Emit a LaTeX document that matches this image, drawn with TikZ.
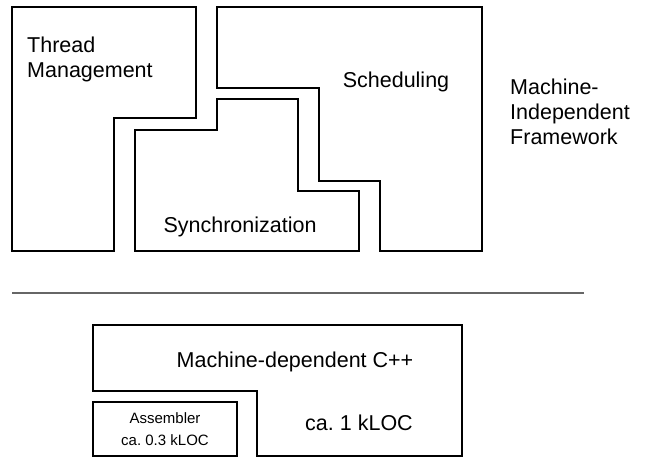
\documentclass[tikz,border=0pt]{standalone}
\usepackage{fontspec}
\setmainfont{Liberation Sans}
\frenchspacing

\begin{document}
\begin{tikzpicture}[
        x=1pt, y=-1pt,
        block/.style={draw=black, line width=1.1pt, line join=miter},
        divider/.style={draw=black!60, line width=1.2pt},
        txt/.style={font=\fontsize{21.5}{25}\selectfont, inner sep=0pt},
        smalltxt/.style={font=\fontsize{15}{22}\selectfont, inner sep=0pt, align=center}
    ]
    \useasboundingbox (0,0) rectangle (645,457);

    % --- Machine-independent framework ---
    % Thread management
    \draw[block] (12,7) -- (196,7) -- (196,118) -- (114,118) -- (114,251)
        -- (12,251) -- cycle;
    % Scheduling
    \draw[block] (217,7) -- (482,7) -- (482,251) -- (380,251) -- (380,181)
        -- (319,181) -- (319,88) -- (217,88) -- cycle;
    % Synchronization
    \draw[block] (135,130) -- (217,130) -- (217,99) -- (298,99) -- (298,191)
        -- (359,191) -- (359,251) -- (135,251) -- cycle;

    \node[txt, anchor=base west, align=left] (thread) at (27,78) {Thread\\Management};
    \node[txt, anchor=base] (sched) at (396,88) {Scheduling};
    \node[txt, anchor=base] (sync) at (240,233) {Synchronization};
    \node[txt, anchor=base west, align=left] (indep) at (510,145)
        {Machine-\\Independent\\Framework};

    % --- Separator ---
    \coordinate (sepL) at (12,293);
    \coordinate (sepR) at (584,293);
    \draw[divider] (sepL) -- (sepR);

    % --- Machine-dependent part ---
    \draw[block] (93,325) -- (462,325) -- (462,456) -- (257,456) -- (257,391)
        -- (93,391) -- cycle;
    \draw[block] (93,402) rectangle (237,456);

    \node[txt, anchor=base] (mdep) at (295,367) {Machine-dependent C++};
    \node[txt, anchor=base] (kloc) at (359,430) {ca. 1 kLOC};
    \node[smalltxt, anchor=base] (asm) at (165,423) {Assembler};
    \node[smalltxt, anchor=base] (asmloc) at (165,445) {ca. 0.3 kLOC};

\end{tikzpicture}
\end{document}
